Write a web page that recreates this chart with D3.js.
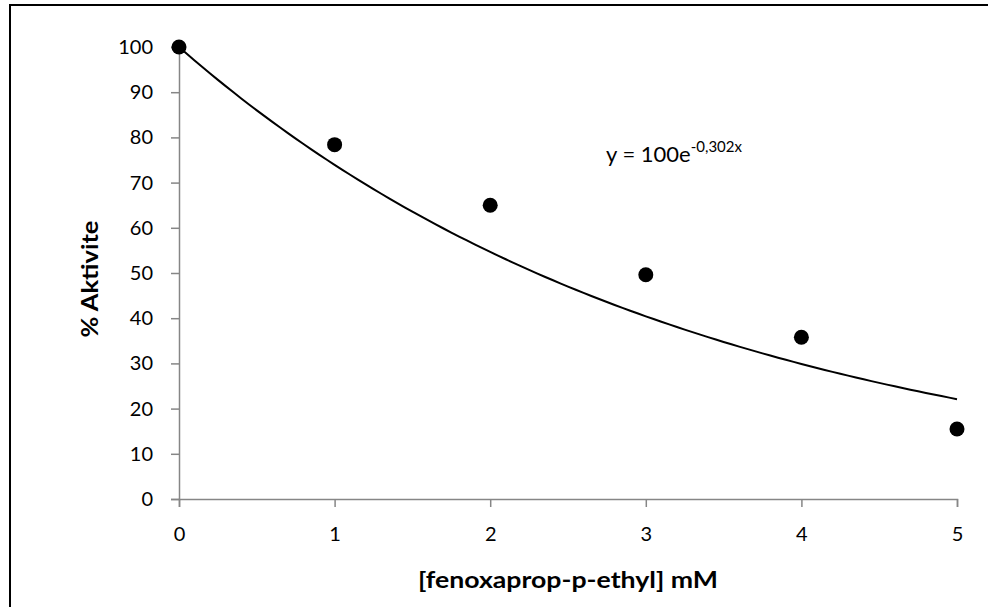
<html>
<head>
<meta charset="utf-8">
<title>% Aktivite</title>
<style>
  body { margin: 0; background: #fff; }
  text { font-family: Lato, "Open Sans", sans-serif; fill: #000; }
</style>
<script src="https://d3js.org/d3.v7.min.js"></script>
</head>
<body>
<svg width="988" height="607"></svg>
<script>
// data
var doses = [0, 1, 2, 3, 4, 5];
var activity = [100, 78.4, 65.0, 49.6, 35.8, 15.5];
var yTicks = [0, 10, 20, 30, 40, 50, 60, 70, 80, 90, 100];
var fitA = 100, fitK = -0.302;

var svg = d3.select("svg");

// outer frame (cut off at right and bottom)
svg.append("rect")
  .attr("x", 10).attr("y", 5)
  .attr("width", 990).attr("height", 620)
  .attr("fill", "none")
  .attr("stroke", "#000")
  .attr("stroke-width", 2);

var x = d3.scaleLinear().domain([0, 5]).range([179, 957]);
var y = d3.scaleLinear().domain([0, 100]).range([499, 47]);

var yAxis = svg.append("g")
  .attr("transform", "translate(179,0)")
  .call(d3.axisLeft(y).tickValues(yTicks).tickFormat(d3.format("d")).tickSize(8).tickPadding(18));
var xAxis = svg.append("g")
  .attr("transform", "translate(0,499)")
  .call(d3.axisBottom(x).tickValues(doses).tickFormat(d3.format("d")).tickSize(8).tickPadding(20));

[xAxis, yAxis].forEach(function(a){
  a.attr("font-size", 20).attr("font-family", "Lato, sans-serif");
  a.select(".domain").attr("stroke", "#868686").attr("stroke-width", 1.5);
  a.selectAll(".tick line").attr("stroke", "#868686").attr("stroke-width", 1.5);
  a.selectAll(".tick text").attr("fill", "#000");
});

// fitted curve
var curvePts = d3.range(0, 5.001, 0.05).map(function(t){ return [t, fitA * Math.exp(fitK * t)]; });
svg.append("path")
  .datum(curvePts)
  .attr("fill", "none")
  .attr("stroke", "#000")
  .attr("stroke-width", 2)
  .attr("d", d3.line().x(function(d){ return x(d[0]); }).y(function(d){ return y(d[1]); }));

// points
svg.selectAll("circle.pt")
  .data(doses)
  .enter().append("circle")
  .attr("class", "pt")
  .attr("cx", function(d){ return x(d); })
  .attr("cy", function(d, i){ return y(activity[i]); })
  .attr("r", 7.5)
  .attr("fill", "#000");

// equation
var eq = svg.append("text")
  .attr("x", 606).attr("y", 162)
  .attr("font-size", 22);
eq.append("tspan").text("y = 100e");
eq.append("tspan").attr("font-size", 15).attr("dy", -10).text("-0,302x");

// axis titles
svg.append("text")
  .attr("x", 568).attr("y", 588)
  .attr("text-anchor", "middle")
  .attr("font-size", 22).attr("font-weight", "bold")
  .attr("textLength", 300).attr("lengthAdjust", "spacingAndGlyphs")
  .text("[fenoxaprop-p-ethyl] mM");

svg.append("text")
  .attr("transform", "translate(98,279) rotate(-90)")
  .attr("text-anchor", "middle")
  .attr("font-size", 22).attr("font-weight", "bold")
  .attr("textLength", 117).attr("lengthAdjust", "spacingAndGlyphs")
  .text("% Aktivite");
</script>
</body>
</html>
